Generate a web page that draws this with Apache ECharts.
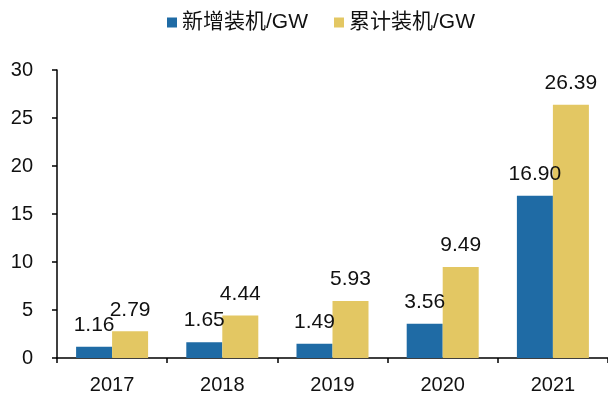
<!DOCTYPE html>
<html>
<head>
<meta charset="utf-8">
<script src="https://cdn.jsdelivr.net/npm/echarts@6/dist/echarts.min.js"></script>
<style>
  html, body { margin: 0; padding: 0; background: #fff; }
  #chart { width: 608px; height: 396px; }
</style>
</head>
<body>
<div id="chart"></div>
<script>
// Annual installations and cumulative capacity, GW
const years = ['2017', '2018', '2019', '2020', '2021'];
const newInstalled = [1.16, 1.65, 1.49, 3.56, 16.90];
const cumulative = [2.79, 4.44, 5.93, 9.49, 26.39];
const seriesNames = ['新增装机/GW', '累计装机/GW'];

const FONT = 'Liberation Sans, Arial, sans-serif';
const CJK = 'Liberation Sans, "Noto Sans CJK SC", sans-serif';

const labelStyle = {
  show: true,
  position: 'top',
  distance: 11,
  fontSize: 21,
  fontFamily: FONT,
  color: '#111',
  formatter: p => p.value.toFixed(2)
};

const chart = echarts.init(document.getElementById('chart'));
chart.setOption({
  animation: false,
  legend: {
    top: 7,
    left: 162,
    itemWidth: 10,
    itemHeight: 10,
    itemGap: 26,
    icon: 'rect',
    textStyle: { fontSize: 21, fontFamily: CJK, color: '#111' },
    data: seriesNames
  },
  grid: { left: 57, right: 0, top: 70, bottom: 38 },
  xAxis: {
    type: 'category',
    data: years,
    axisLine: { lineStyle: { color: '#000', width: 1.5 } },
    axisTick: { show: true, alignWithLabel: false, length: 5, lineStyle: { color: '#000', width: 1.5 } },
    axisLabel: { fontSize: 20, fontFamily: FONT, color: '#111', margin: 17 }
  },
  yAxis: {
    type: 'value',
    min: 0,
    max: 30,
    interval: 5,
    splitLine: { show: false },
    axisLine: { show: true, lineStyle: { color: '#000', width: 1.5 } },
    axisTick: { show: true, length: 5, inside: false, lineStyle: { color: '#000', width: 1.5 } },
    axisLabel: { fontSize: 20, fontFamily: FONT, color: '#111', margin: 24 }
  },
  series: [
    {
      name: seriesNames[0],
      type: 'bar',
      data: newInstalled,
      barWidth: 36,
      barGap: '0%',
      itemStyle: { color: '#1F6BA5' },
      label: labelStyle
    },
    {
      name: seriesNames[1],
      type: 'bar',
      data: cumulative,
      barWidth: 36,
      itemStyle: { color: '#E3C763' },
      label: labelStyle
    }
  ]
});
</script>
</body>
</html>
